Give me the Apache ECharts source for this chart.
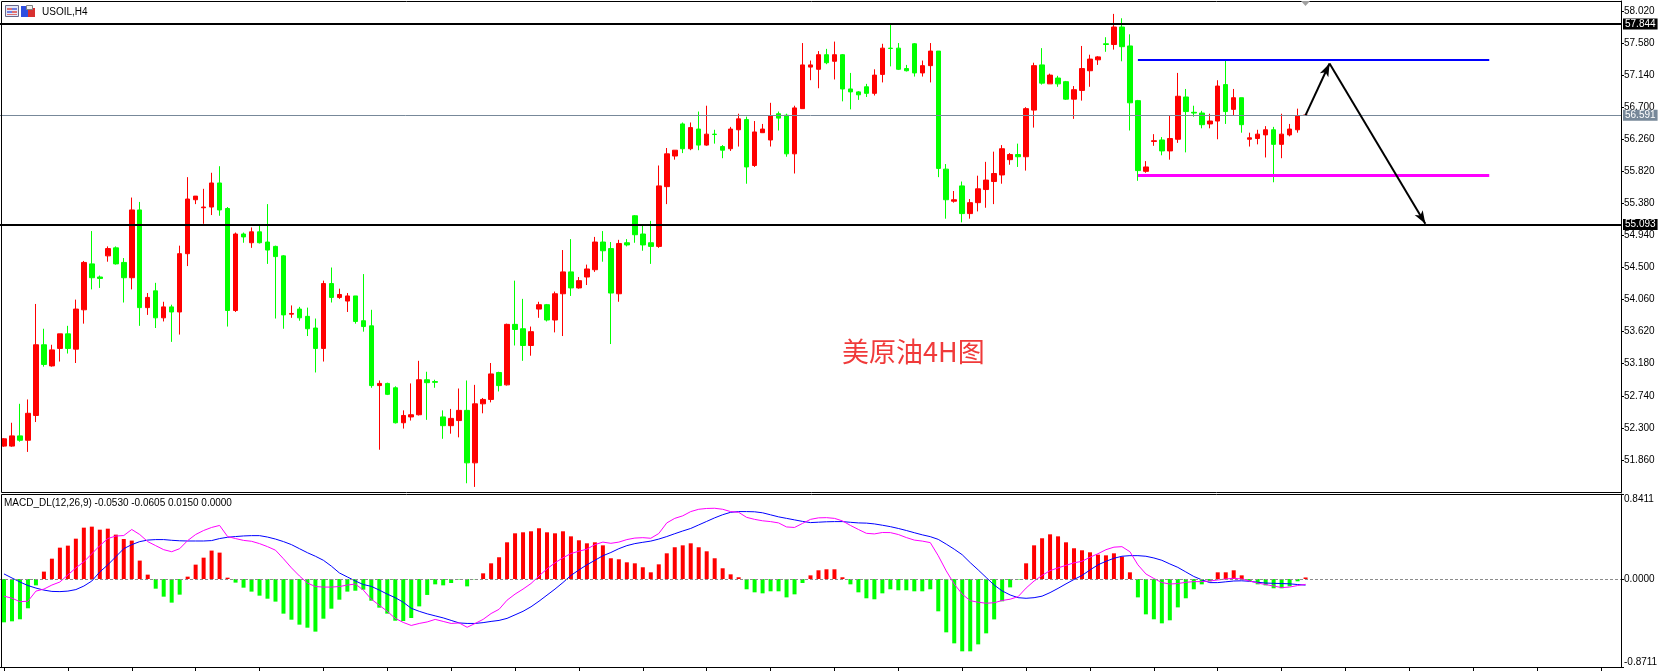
<!DOCTYPE html>
<html>
<head>
<meta charset="utf-8">
<title>USOIL,H4</title>
<script src="https://cdn.jsdelivr.net/npm/echarts@6/dist/echarts.min.js"></script>
<style>
  html, body { margin: 0; padding: 0; background: #fff; }
  #chart { width: 1671px; height: 671px; }
</style>
</head>
<body>
<div id="chart"></div>
<script>
// H4 candles, oldest first (164 bars)
var opens = [52.05,52.05,52.19,52.13,52.47,53.44,53.15,53.39,53.59,53.38,
  53.92,54.55,54.37,54.66,54.77,54.57,54.36,55.29,53.95,54.18,
  53.81,53.96,53.89,54.69,55.43,55.32,55.33,55.66,55.31,53.91,
  54.96,54.84,54.99,54.85,54.79,54.66,53.86,53.93,53.83,53.67,
  53.39,54.28,54.09,54.04,54.11,53.77,53.70,52.88,52.91,52.85,
  52.37,52.45,52.48,52.96,52.935,52.45,52.33,52.40,52.54,51.82,
  52.63,52.69,53.06,52.89,53.72,53.66,53.43,53.93,53.99,53.78,
  54.14,54.44,54.22,54.37,54.47,54.85,54.76,54.14,54.84,55.21,
  54.96,54.84,54.79,55.61,56.03,56.47,56.13,56.40,56.18,56.33,
  56.16,56.13,56.39,56.53,55.90,56.35,56.25,56.61,56.59,56.06,
  56.68,57.25,57.22,57.42,57.33,57.42,56.95,56.91,56.98,56.89,
  57.15,57.51,57.51,57.23,57.57,57.17,57.27,57.47,55.85,55.41,
  55.62,55.24,55.39,55.57,55.68,55.77,55.98,56.05,56.02,56.66,
  57.28,57.02,57.10,57.05,56.81,56.93,57.20,57.35,57.57,57.56,
  57.80,57.54,56.79,55.82,56.23,56.25,56.10,56.26,56.84,56.63,
  56.62,56.47,56.51,57.01,56.67,56.83,56.26,56.27,56.32,56.39,
  56.19,56.32,56.39,56.59];
var highs = [52.16,52.37,52.63,52.69,54.00,53.66,53.44,53.59,53.70,54.06,
  54.59,55.00,54.39,54.79,54.79,54.63,55.46,55.40,54.15,54.29,
  54.03,53.99,54.80,55.74,55.48,55.58,55.80,55.89,55.33,54.98,
  54.98,55.05,55.09,55.37,54.80,54.67,53.98,53.96,53.95,53.80,
  54.32,54.50,54.21,54.15,54.11,54.41,53.92,52.95,52.92,52.87,
  52.54,52.91,53.22,53.07,52.96,52.54,52.56,52.84,52.95,52.89,
  52.71,53.19,53.07,53.73,54.32,54.07,53.69,54.03,54.00,54.17,
  54.74,54.89,54.37,54.54,54.92,55.00,54.85,54.88,54.89,55.22,
  55.09,55.14,55.90,56.14,56.11,56.49,56.49,56.64,56.72,56.39,
  56.18,56.43,56.61,56.57,56.51,56.47,56.76,56.64,56.61,56.72,
  57.58,57.34,57.47,57.50,57.60,57.43,57.17,56.92,57.02,57.22,
  57.57,57.84,57.58,57.28,57.58,57.34,57.58,57.47,55.92,55.55,
  55.68,55.44,55.76,55.95,56.09,56.18,56.07,56.20,56.70,57.31,
  57.51,57.16,57.13,57.06,56.99,57.54,57.42,57.40,57.66,57.98,
  57.92,57.70,56.80,55.96,56.33,56.29,56.59,57.17,56.95,56.72,
  56.65,56.61,57.07,57.36,56.95,56.83,56.35,56.39,56.44,56.43,
  56.61,56.47,56.68,56.60];
var lows = [52.04,52.04,52.11,51.97,52.38,53.14,53.14,53.21,53.32,53.19,
  53.73,54.20,54.22,54.58,54.54,54.02,54.20,53.70,53.85,53.67,
  53.76,53.48,53.58,54.52,55.37,55.10,55.22,55.21,53.69,53.89,
  54.84,54.77,54.83,54.55,53.80,53.66,53.81,53.77,53.56,53.06,
  53.21,54.02,54.07,53.89,53.73,53.62,52.85,52.00,52.75,52.36,
  52.29,52.40,52.47,52.41,52.85,52.15,52.22,52.17,51.54,51.49,
  52.50,52.65,52.80,52.88,53.43,53.22,53.29,53.81,53.76,53.61,
  53.56,54.11,54.21,54.26,54.44,54.58,53.45,54.03,54.79,54.84,
  54.73,54.55,54.77,55.37,55.98,56.07,56.11,56.11,56.17,56.20,
  56.00,56.10,56.16,55.65,55.88,56.35,56.16,56.38,56.02,55.79,
  56.68,57.07,56.96,57.29,57.08,56.78,56.67,56.80,56.84,56.86,
  57.04,57.26,57.21,57.19,57.12,57.12,57.04,55.74,55.17,55.39,
  55.12,55.17,55.27,55.32,55.37,55.65,55.91,55.88,55.83,56.42,
  57.01,57.02,56.98,56.80,56.54,56.79,56.98,57.28,57.46,57.49,
  57.33,56.38,55.69,55.80,56.17,56.04,55.98,56.21,56.08,56.57,
  56.41,56.41,56.26,56.47,56.59,56.35,56.16,56.19,56.01,55.67,
  56.00,56.30,56.35,56.58];
var closes = [52.15,52.19,52.13,52.50,53.44,53.17,53.37,53.59,53.39,53.93,
  54.57,54.36,54.35,54.76,54.55,54.36,55.29,53.95,54.09,53.81,
  53.96,53.89,54.69,55.44,55.48,55.33,55.66,55.29,53.91,54.96,
  54.92,54.99,54.84,54.74,54.65,53.85,53.87,53.81,53.66,53.39,
  54.28,54.09,54.13,54.11,53.76,53.69,52.88,52.91,52.76,52.37,
  52.47,52.48,52.96,52.92,52.925,52.33,52.43,52.54,51.82,52.63,
  52.69,53.04,52.88,53.72,53.65,53.43,53.62,53.99,53.78,54.14,
  54.44,54.22,54.32,54.48,54.85,54.73,54.15,54.83,54.81,54.95,
  54.81,54.79,55.62,56.06,56.11,56.13,56.42,56.18,56.33,56.325,
  56.11,56.40,56.54,55.88,56.36,56.40,56.58,56.55,56.06,56.69,
  57.28,57.28,57.42,57.31,57.42,56.95,56.91,56.87,56.89,57.14,
  57.51,57.505,57.22,57.20,57.17,57.27,57.47,55.86,55.43,55.43,
  55.24,55.39,55.58,55.70,55.79,56.13,56.05,56.02,56.68,57.27,
  57.03,57.14,57.02,56.81,56.94,57.23,57.36,57.39,57.56,57.80,
  57.53,56.76,55.83,55.88,56.24,56.10,56.27,56.85,56.64,56.62,
  56.46,56.51,56.99,56.64,56.83,56.46,56.28,56.33,56.39,56.19,
  56.33,56.40,56.58,56.591];

// MACD_DL(12,26,9)
var macdHist = [-0.429,-0.419,-0.399,-0.290,-0.063,0.073,0.201,0.310,0.330,0.399,
  0.508,0.518,0.488,0.498,0.439,0.396,0.380,0.182,0.043,-0.096,
  -0.175,-0.234,-0.155,0.023,0.142,0.211,0.281,0.261,0.013,-0.036,
  -0.086,-0.125,-0.165,-0.195,-0.224,-0.343,-0.403,-0.452,-0.482,-0.521,
  -0.393,-0.294,-0.205,-0.125,-0.116,-0.106,-0.215,-0.284,-0.343,-0.413,
  -0.416,-0.386,-0.271,-0.158,-0.053,-0.063,-0.040,-0.005,-0.073,-0.003,
  0.056,0.155,0.215,0.363,0.452,0.462,0.472,0.502,0.462,0.452,
  0.472,0.422,0.383,0.353,0.363,0.333,0.205,0.195,0.165,0.155,
  0.116,0.066,0.145,0.254,0.314,0.333,0.353,0.314,0.274,0.205,
  0.106,0.046,0.017,-0.102,-0.132,-0.142,-0.122,-0.122,-0.182,-0.152,
  -0.040,0.036,0.086,0.096,0.096,0.017,-0.053,-0.132,-0.191,-0.201,
  -0.142,-0.102,-0.112,-0.112,-0.122,-0.122,-0.102,-0.320,-0.528,-0.637,
  -0.716,-0.716,-0.647,-0.538,-0.400,-0.221,-0.083,-0.005,0.155,0.333,
  0.403,0.442,0.422,0.363,0.304,0.284,0.264,0.241,0.234,0.254,
  0.221,0.066,-0.182,-0.350,-0.399,-0.439,-0.409,-0.281,-0.191,-0.102,
  -0.053,-0.023,0.066,0.066,0.086,0.036,-0.023,-0.053,-0.063,-0.092,
  -0.092,-0.073,-0.023,0.015];
var macdMain = [-0.17,-0.19,-0.225,-0.22,-0.12,-0.10,-0.06,-0.03,0.04,0.11,
  0.17,0.25,0.33,0.40,0.425,0.43,0.49,0.44,0.37,0.33,
  0.29,0.27,0.30,0.38,0.44,0.48,0.51,0.53,0.42,0.40,
  0.382,0.373,0.35,0.32,0.285,0.20,0.11,0.03,-0.04,-0.075,
  -0.08,-0.08,-0.075,-0.06,-0.05,-0.11,-0.20,-0.26,-0.32,-0.39,
  -0.43,-0.46,-0.44,-0.425,-0.40,-0.42,-0.44,-0.435,-0.478,-0.44,
  -0.40,-0.342,-0.30,-0.21,-0.15,-0.10,-0.045,0.03,0.10,0.16,
  0.21,0.252,0.275,0.295,0.34,0.365,0.353,0.365,0.39,0.405,
  0.409,0.403,0.45,0.555,0.60,0.625,0.667,0.69,0.698,0.70,
  0.69,0.667,0.66,0.61,0.59,0.576,0.568,0.555,0.515,0.51,
  0.55,0.59,0.605,0.607,0.60,0.575,0.53,0.49,0.452,0.446,
  0.46,0.459,0.44,0.41,0.385,0.375,0.36,0.23,0.08,-0.05,
  -0.15,-0.215,-0.23,-0.24,-0.235,-0.213,-0.20,-0.175,-0.09,-0.02,
  0.035,0.083,0.11,0.135,0.16,0.175,0.215,0.25,0.29,0.315,
  0.32,0.27,0.14,0.05,0.005,-0.035,-0.05,-0.045,-0.033,-0.026,
  -0.026,-0.02,-0.01,0.0,0.007,0.0,-0.02,-0.04,-0.055,-0.07,
  -0.085,-0.08,-0.065,-0.053];
var macdSignal = [0.05,0.01,-0.03,-0.065,-0.09,-0.11,-0.123,-0.125,-0.12,-0.105,
  -0.07,-0.02,0.07,0.14,0.22,0.30,0.34,0.37,0.385,0.39,
  0.39,0.383,0.378,0.376,0.376,0.376,0.38,0.40,0.413,0.42,
  0.426,0.429,0.429,0.415,0.395,0.37,0.34,0.30,0.26,0.225,
  0.185,0.127,0.06,0.02,-0.02,-0.055,-0.073,-0.11,-0.15,-0.185,
  -0.23,-0.29,-0.32,-0.345,-0.365,-0.385,-0.41,-0.435,-0.44,-0.44,
  -0.432,-0.42,-0.41,-0.39,-0.355,-0.32,-0.275,-0.22,-0.16,-0.10,
  -0.035,0.035,0.09,0.14,0.185,0.23,0.262,0.30,0.33,0.35,
  0.363,0.375,0.395,0.42,0.448,0.475,0.50,0.535,0.57,0.605,
  0.636,0.66,0.667,0.667,0.665,0.655,0.635,0.615,0.60,0.585,
  0.57,0.558,0.562,0.566,0.568,0.568,0.561,0.555,0.553,0.545,
  0.532,0.518,0.50,0.48,0.458,0.437,0.419,0.392,0.345,0.295,
  0.24,0.162,0.09,0.015,-0.06,-0.118,-0.158,-0.185,-0.191,-0.185,
  -0.17,-0.135,-0.093,-0.048,-0.005,0.035,0.089,0.14,0.175,0.205,
  0.225,0.231,0.231,0.225,0.208,0.185,0.149,0.115,0.07,0.025,
  -0.008,-0.036,-0.036,-0.028,-0.02,-0.018,-0.023,-0.033,-0.04,-0.043,
  -0.045,-0.048,-0.055,-0.0605];

// drawn objects on the price pane
var levelLines = [57.844, 55.093];
var lastPrice = 56.591;
var boxTop = 57.352, boxBottom = 55.761, boxFrom = 142, boxTo = 186;
var arrowPath = [[163, 56.591], [166, 57.30], [178, 55.10]];

var priceTicks = { min: 51.42, max: 58.157, step: 0.44 };
var macdTicks = { min: -0.8711, max: 0.8411 };

var slotCount = 203; // bars + right shift space
var categories = [];
for (var i = 0; i < slotCount; i++) categories.push(String(i));

var candles = opens.map(function (o, i) {
  return [o, closes[i], lows[i], highs[i]];
});

var axisFont = "'Liberation Sans Narrow', 'Liberation Sans', sans-serif";

function priceTag(bg) {
  return {
    position: 'end', distance: 2, color: '#fff', backgroundColor: bg,
    padding: [1, 2, 0, 2], fontSize: 10, fontFamily: axisFont, formatter: '{b}'
  };
}

var chart = echarts.init(document.getElementById('chart'));
var option = {
  animation: false,
  backgroundColor: '#fff',
  grid: [
    { left: -3, right: 50, top: 1, height: 491 },
    { left: -3, right: 50, top: 494, height: 173 }
  ],
  xAxis: [
    { type: 'category', gridIndex: 0, data: categories, show: false },
    {
      type: 'category', gridIndex: 1, data: categories, position: 'bottom',
      axisLine: { show: true, onZero: false, lineStyle: { color: '#000' } },
      axisTick: { show: true, interval: 7, alignWithLabel: true, length: 4, lineStyle: { color: '#000' } },
      axisLabel: { show: false }
    }
  ],
  yAxis: [
    {
      type: 'value', gridIndex: 0, position: 'right', scale: true,
      min: priceTicks.min, max: priceTicks.max, interval: priceTicks.step,
      splitLine: { show: false },
      axisLine: { show: true, lineStyle: { color: '#000' } },
      axisTick: { show: true, length: 3, lineStyle: { color: '#000' } },
      axisLabel: {
        margin: 3, fontSize: 10, fontFamily: axisFont, color: '#000',
        showMinLabel: false, showMaxLabel: false,
        formatter: function (v) { return v.toFixed(3); }
      }
    },
    {
      type: 'value', gridIndex: 1, position: 'right',
      min: macdTicks.min, max: macdTicks.max, interval: -macdTicks.min,
      splitLine: { show: false },
      axisLine: { show: true, lineStyle: { color: '#000' } },
      axisTick: { show: true, length: 3, lineStyle: { color: '#000' } },
      axisLabel: {
        margin: 3, fontSize: 10, fontFamily: axisFont, color: '#000',
        verticalAlignMinLabel: 'bottom', verticalAlignMaxLabel: 'top',
        formatter: function (v) { return v.toFixed(4); }
      }
    }
  ],
  series: [
    {
      name: 'last', type: 'line', xAxisIndex: 0, yAxisIndex: 0, data: [], z: 1,
      markLine: {
        silent: true, symbol: ['none', 'none'],
        lineStyle: { color: '#778899', width: 1, type: 'solid' },
        label: priceTag('#778899'),
        data: [{ yAxis: lastPrice, name: lastPrice.toFixed(3) }]
      }
    },
    {
      name: 'USOIL,H4', type: 'candlestick', xAxisIndex: 0, yAxisIndex: 0,
      data: candles, barWidth: 5, z: 2,
      itemStyle: {
        color: '#ff0000', color0: '#00ff00',
        borderColor: '#ff0000', borderColor0: '#00ff00', borderWidth: 1
      }
    },
    {
      name: 'levels', type: 'line', xAxisIndex: 0, yAxisIndex: 0, data: [], z: 3,
      markLine: {
        silent: true, symbol: ['none', 'none'],
        lineStyle: { color: '#000', width: 2, type: 'solid' },
        label: priceTag('#000'),
        data: levelLines.map(function (v) { return { yAxis: v, name: v.toFixed(3) }; })
      }
    },
    {
      name: 'range', type: 'line', xAxisIndex: 0, yAxisIndex: 0, data: [], z: 3,
      markLine: {
        silent: true, symbol: ['none', 'none'], label: { show: false },
        data: [
          [{ coord: [boxFrom, boxTop], lineStyle: { color: '#0000ff', width: 2, type: 'solid' } },
           { coord: [boxTo, boxTop] }],
          [{ coord: [boxFrom, boxBottom], lineStyle: { color: '#ff00ff', width: 3, type: 'solid' } },
           { coord: [boxTo, boxBottom] }]
        ]
      }
    },
    {
      name: 'arrows', type: 'line', xAxisIndex: 0, yAxisIndex: 0, data: [], z: 4,
      markLine: {
        silent: true, symbol: ['none', 'arrow'], symbolSize: [7, 13],
        label: { show: false },
        lineStyle: { color: '#000', width: 2, type: 'solid' },
        data: [
          [{ coord: arrowPath[0] }, { coord: arrowPath[1] }],
          [{ coord: arrowPath[1] }, { coord: arrowPath[2] }]
        ]
      }
    },
    {
      name: 'hist', type: 'bar', xAxisIndex: 1, yAxisIndex: 1, data: macdHist, barWidth: 4,
      itemStyle: { color: function (p) { return p.value >= 0 ? '#ff0000' : '#00ff00'; } },
      markLine: {
        silent: true, symbol: ['none', 'none'], label: { show: false },
        lineStyle: { color: '#8c8c8c', width: 1, type: [3, 2] },
        data: [{ yAxis: 0 }]
      }
    },
    {
      name: 'signal', type: 'line', xAxisIndex: 1, yAxisIndex: 1, data: macdSignal,
      symbol: 'none', lineStyle: { color: '#0000ff', width: 1 }, z: 3
    },
    {
      name: 'macd', type: 'line', xAxisIndex: 1, yAxisIndex: 1, data: macdMain,
      symbol: 'none', lineStyle: { color: '#ff00ff', width: 1 }, z: 4
    }
  ],
  graphic: { elements: [
    { type: 'rect', shape: { x: 1.5, y: 1.5, width: 1620, height: 491 }, style: { fill: null, stroke: '#000', lineWidth: 1 }, z: 10, silent: true },
    { type: 'rect', shape: { x: 1.5, y: 494.5, width: 1620, height: 173 }, style: { fill: null, stroke: '#000', lineWidth: 1 }, z: 10, silent: true },
    // window icons
    { type: 'rect', shape: { x: 5.5, y: 5.5, width: 13, height: 11 }, style: { fill: '#e4e8f8', stroke: '#6a6a8a', lineWidth: 1 }, z: 10 },
    { type: 'rect', shape: { x: 7, y: 8, width: 5, height: 2 }, style: { fill: '#e07070' }, z: 11 },
    { type: 'rect', shape: { x: 12, y: 8, width: 5, height: 2 }, style: { fill: '#7080e0' }, z: 11 },
    { type: 'rect', shape: { x: 7, y: 11, width: 5, height: 2 }, style: { fill: '#7080e0' }, z: 11 },
    { type: 'rect', shape: { x: 12, y: 11, width: 5, height: 2 }, style: { fill: '#e07070' }, z: 11 },
    { type: 'rect', shape: { x: 7, y: 14, width: 10, height: 1 }, style: { fill: '#e07070' }, z: 11 },
    { type: 'rect', shape: { x: 21, y: 6, width: 7, height: 11 }, style: { fill: '#2f4fe0' }, z: 10 },
    { type: 'rect', shape: { x: 28, y: 8, width: 7, height: 9 }, style: { fill: '#d83030' }, z: 10 },
    { type: 'rect', shape: { x: 26.5, y: 5.5, width: 6, height: 4 }, style: { fill: '#f0f0f0', stroke: '#808080', lineWidth: 1 }, z: 11 },
    { type: 'text', x: 42, y: 12, style: { text: 'USOIL,H4', fill: '#000', font: '10px "Liberation Sans", sans-serif', verticalAlign: 'middle' }, z: 10 },
    { type: 'polygon', shape: { points: [[1301, 1], [1310, 1], [1305.5, 6]] }, style: { fill: '#a0a0a0' }, z: 10 },
    { type: 'text', x: 4, y: 503, style: { text: 'MACD_DL(12,26,9) -0.0530 -0.0605 0.0150 0.0000', fill: '#000', font: '10px ' + axisFont, verticalAlign: 'middle' }, z: 10 },
    { type: 'text', x: 842, y: 352, style: { text: '美原油4H图', fill: '#f03a3a', font: '27px "Noto Sans CJK SC", sans-serif', verticalAlign: 'middle' }, z: 10 }
  ] }
};
chart.setOption(option);
</script>
</body>
</html>
